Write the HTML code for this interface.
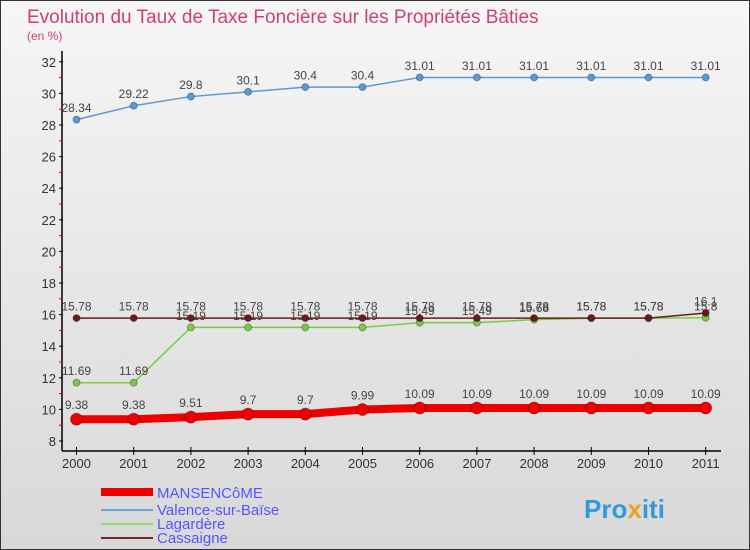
<!DOCTYPE html>
<html><head><meta charset="utf-8"><style>
body{margin:0}
#c{width:750px;height:550px;position:relative;overflow:hidden;background:linear-gradient(#f6f6f6,#d8d8d8);border:1px solid #333;box-sizing:border-box;font-family:"Liberation Sans",sans-serif}
</style></head><body>
<div id="c">
<svg width="750" height="550" style="position:absolute;left:0;top:0" id="svg">
<text x="26" y="22" font-size="19" fill="#d0406a">Evolution du Taux de Taxe Foncière sur les Propriétés Bâties</text>
<text x="26" y="39" font-size="12" fill="#d0406a">(en %)</text>
<g id="axes"></g><g id="series"></g>
<g>
<rect x="100" y="487" width="52" height="8" fill="#ee0000"/><text x="156" y="497" font-size="15" fill="#5555ff">MANSENCôME</text>
<line x1="100" y1="509" x2="152" y2="509" stroke="#6aa4d8" stroke-width="2"/><text x="156" y="514" font-size="15" fill="#5555ff">Valence-sur-Baïse</text>
<line x1="100" y1="523" x2="152" y2="523" stroke="#88dd66" stroke-width="2"/><text x="156" y="528" font-size="15" fill="#5555ff">Lagardère</text>
<line x1="100" y1="537" x2="152" y2="537" stroke="#772222" stroke-width="2"/><text x="156" y="542" font-size="15" fill="#5555ff">Cassaigne</text>
</g>
<text x="583" y="517" font-size="26" font-weight="bold" fill="#3399dd">Pro<tspan fill="#f0a020">x</tspan>iti</text>
</svg></div>
<script>
const years=[2000,2001,2002,2003,2004,2005,2006,2007,2008,2009,2010,2011];
const mansencome=[9.38,9.38,9.51,9.7,9.7,9.99,10.09,10.09,10.09,10.09,10.09,10.09];
const valence=[28.34,29.22,29.8,30.1,30.4,30.4,31.01,31.01,31.01,31.01,31.01,31.01];
const lagardere=[11.69,11.69,15.19,15.19,15.19,15.19,15.49,15.49,15.68,15.78,15.78,15.8];
const cassaigne=[15.78,15.78,15.78,15.78,15.78,15.78,15.78,15.78,15.78,15.78,15.78,16.1];
const yTicks=[8,10,12,14,16,18,20,22,24,26,28,30,32];
const NS='http://www.w3.org/2000/svg';
const X=i=>75.5+i*57.2, Y=v=>440-(v-8)*15.8;
function mk(t,a,p){const e=document.createElementNS(NS,t);for(const k in a)e.setAttribute(k,a[k]);p.appendChild(e);return e;}
const ax=document.getElementById('axes');
let l=mk('line',{x1:61,y1:50,x2:61,y2:450,stroke:'#000','stroke-width':1.5},ax);

l=mk('line',{x1:61,y1:450,x2:720,y2:450,stroke:'#000','stroke-width':1.5},ax);

yTicks.forEach(v=>{
 mk('line',{x1:58,y1:Y(v),x2:62,y2:Y(v),stroke:'#000'},ax);
 if(v<32)mk('line',{x1:58,y1:Y(v+1),x2:62,y2:Y(v+1),stroke:'#e00'},ax);
 const t=mk('text',{x:55,y:Y(v)+5,'font-size':13,'text-anchor':'end',fill:'#333'},ax);t.textContent=v;
 
});
years.forEach((y,i)=>{
 mk('line',{x1:X(i),y1:446,x2:X(i),y2:454,stroke:'#000'},ax);
 const t=mk('text',{x:X(i),y:467,'font-size':13,'text-anchor':'middle',fill:'#333'},ax);t.textContent=y;
 
});
const sg=document.getElementById('series');
function series(d,name,col,w,r,lab){
 const g=mk('g',{},sg);
 
 mk('polyline',{points:d.map((v,i)=>X(i)+','+Y(v)).join(' '),fill:'none',stroke:col,'stroke-width':w},g);
 d.forEach((v,i)=>{
  const c=mk('circle',{cx:X(i),cy:Y(v),r:r,fill:col,stroke:'rgba(0,0,0,0.3)'},g);
  
  const t=mk('text',{x:X(i),y:Y(v)-r-4,'font-size':12,'text-anchor':'middle',fill:'#444'},g);t.textContent=v;
 });
}
series(valence,'valence-sur-baise','#5a9ad4',1.5,3.5);
series(lagardere,'lagardere','#77cc44',1.5,3.5);
series(cassaigne,'cassaigne','#6a1a1a',1.5,3.5);
series(mansencome,'mansencome','#ee0000',8,6);
</script>
</body></html>
